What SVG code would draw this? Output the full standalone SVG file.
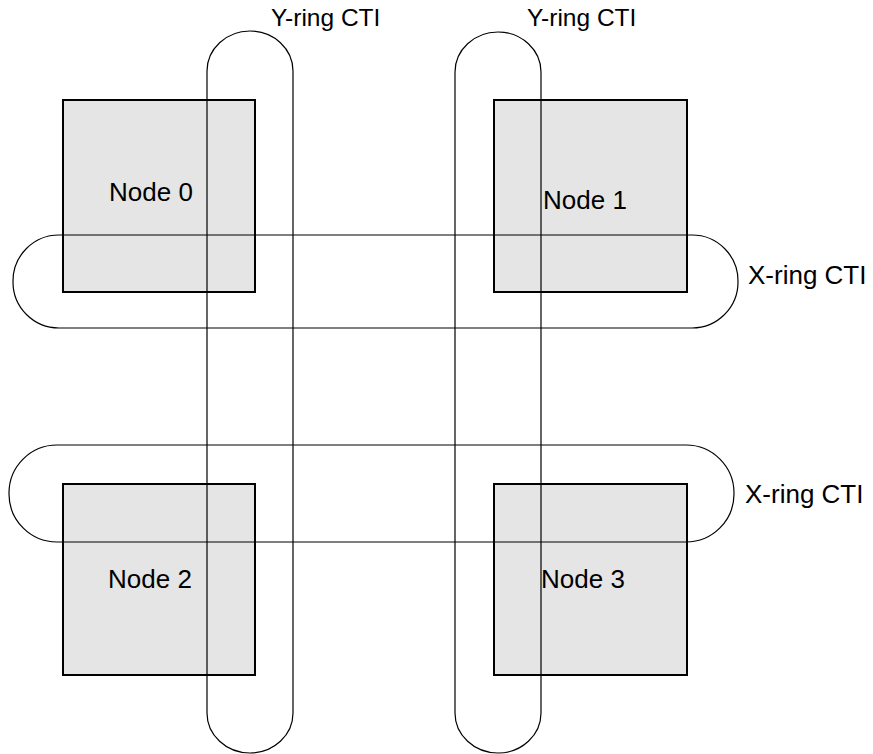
<svg xmlns="http://www.w3.org/2000/svg" width="873" height="754" viewBox="0 0 873 754">
  <style>
    .node { fill: #e5e5e5; stroke: #000; stroke-width: 2; }
    .ring { fill: none; stroke: #000; stroke-width: 1.2; }
    .lbl { font-family: "Liberation Sans", Arial, sans-serif; font-size: 26px; fill: #000; }
    .ylbl { font-size: 24.5px; }
  </style>
  <rect width="873" height="754" fill="#fff"/>
  <!-- compute nodes -->
  <g id="node0"><rect class="node" x="63" y="100" width="192" height="192"/><text class="lbl" x="109" y="201">Node 0</text></g>
  <g id="node1"><rect class="node" x="494" y="100" width="193" height="192"/><text class="lbl" x="543" y="209">Node 1</text></g>
  <g id="node2"><rect class="node" x="63" y="484" width="192" height="191"/><text class="lbl" x="108" y="588">Node 2</text></g>
  <g id="node3"><rect class="node" x="494" y="484" width="193" height="191"/><text class="lbl" x="541" y="588">Node 3</text></g>
  <!-- ring interconnects -->
  <g id="rings">
    <rect class="ring" x="207" y="31" width="86" height="722" rx="43" ry="40"/>
    <rect class="ring" x="455" y="32" width="86" height="721" rx="43" ry="40"/>
    <rect class="ring" x="13" y="235" width="725" height="93" rx="46" ry="46"/>
    <rect class="ring" x="9" y="445" width="725" height="97" rx="48" ry="48"/>
  </g>
  <g id="labels">
    <text class="lbl ylbl" x="271" y="26">Y-ring CTI</text>
    <text class="lbl ylbl" x="527" y="26">Y-ring CTI</text>
    <text class="lbl" x="748" y="284">X-ring CTI</text>
    <text class="lbl" x="745" y="503">X-ring CTI</text>
  </g>
</svg>
